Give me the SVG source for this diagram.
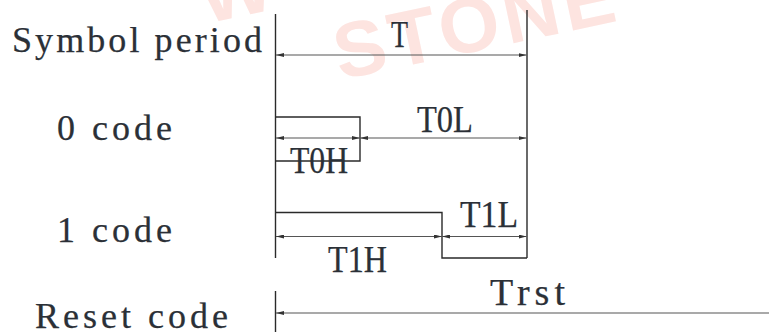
<svg xmlns="http://www.w3.org/2000/svg" width="769" height="334" viewBox="0 0 769 334">
<style>
.lbl{font-family:"Liberation Serif","DejaVu Serif",serif;font-size:36px;fill:#2b3037;stroke:#2b3037;stroke-width:0.25}
.dl{font-family:"Liberation Serif","DejaVu Serif",serif;font-size:38px;fill:#2b3037;stroke:#2b3037;stroke-width:0.25}
.wm{font-family:"Liberation Sans","DejaVu Sans",sans-serif;font-weight:bold;font-size:78px;fill:#fde4e0}
.wave{fill:none;stroke:#2a2a2a;stroke-width:1.4}
.dim{fill:none;stroke:#555;stroke-width:1.2}
</style>
<defs>
<marker id="ah" viewBox="0 0 8 4" refX="8" refY="2" markerWidth="8" markerHeight="4" markerUnits="userSpaceOnUse" orient="auto-start-reverse">
<path d="M0,0 L8,2 L0,4 Z" fill="#333"/>
</marker>
</defs>
<rect width="769" height="334" fill="#fff"/>
<g id="watermark">
<text class="wm" x="340" y="80" transform="rotate(-12 340 80)" textLength="285" lengthAdjust="spacing">STONE</text>
<text class="wm" x="205" y="24" transform="rotate(-12 205 24)">W</text>
</g>
<g id="labels">
<text class="lbl" x="12" y="52" textLength="250" lengthAdjust="spacing">Symbol period</text>
<text class="lbl" x="57" y="140" textLength="115" lengthAdjust="spacing">0 code</text>
<text class="lbl" x="57" y="242" textLength="115" lengthAdjust="spacing">1 code</text>
<text class="lbl" x="35" y="328" textLength="193" lengthAdjust="spacing">Reset code</text>
</g>
<g id="frame">
<line class="wave" x1="275.5" y1="14" x2="275.5" y2="258"/>
<line class="wave" x1="527" y1="10" x2="527" y2="258"/>
<line class="wave" x1="275.5" y1="291" x2="275.5" y2="332"/>
</g>
<g id="waveform-0">
<path class="wave" d="M275.5,117 H360 V161 H275.5"/>
</g>
<g id="waveform-1">
<path class="wave" d="M275.5,212.5 H442 V258 H527"/>
</g>
<g id="connectors">
<line class="dim" x1="276" y1="55" x2="526.5" y2="55" marker-start="url(#ah)" marker-end="url(#ah)"/>
<line class="dim" x1="276" y1="138" x2="360" y2="138" marker-start="url(#ah)" marker-end="url(#ah)"/>
<line class="dim" x1="360" y1="138" x2="526.5" y2="138" marker-start="url(#ah)" marker-end="url(#ah)"/>
<line class="dim" x1="276" y1="236.5" x2="442" y2="236.5" marker-start="url(#ah)" marker-end="url(#ah)"/>
<line class="dim" x1="442" y1="236.5" x2="526.5" y2="236.5" marker-start="url(#ah)" marker-end="url(#ah)"/>
<line class="dim" x1="276" y1="313" x2="769" y2="313" marker-start="url(#ah)"/>
</g>
<g id="dim-labels">
<text class="dl" x="391" y="47" textLength="17" lengthAdjust="spacingAndGlyphs">T</text>
<text class="dl" x="417" y="132" textLength="56" lengthAdjust="spacingAndGlyphs">T0L</text>
<text class="dl" x="290" y="173" textLength="58" lengthAdjust="spacingAndGlyphs">T0H</text>
<text class="dl" x="460" y="227" textLength="58" lengthAdjust="spacingAndGlyphs">T1L</text>
<text class="dl" x="328" y="272" textLength="59" lengthAdjust="spacingAndGlyphs">T1H</text>
<text class="dl" x="490" y="305" textLength="75" lengthAdjust="spacing">Trst</text>
</g>
</svg>
